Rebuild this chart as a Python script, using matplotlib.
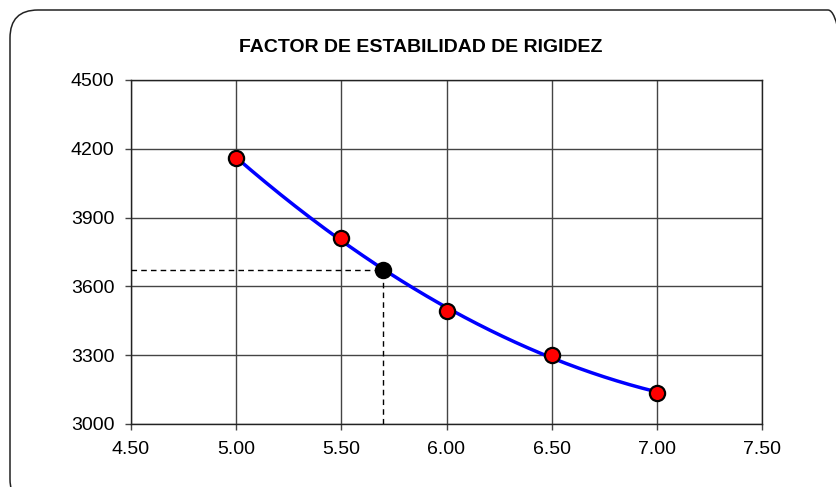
import matplotlib
matplotlib.use("Agg")
import matplotlib.pyplot as plt
import numpy as np
from matplotlib.patches import FancyBboxPatch
from matplotlib.transforms import IdentityTransform
from matplotlib.ticker import FormatStrFormatter

plt.rcParams['font.family'] = ['Liberation Sans', 'DejaVu Sans']

# datos
ancho = [5.0, 5.5, 6.0, 6.5, 7.0]
factor = [4160, 3810, 3492, 3300, 3137]
ancho_sel = 5.7
factor_sel = 3670
titulo = "FACTOR DE ESTABILIDAD DE RIGIDEZ"

fig = plt.figure(figsize=(8.36, 4.87), dpi=100)
ax = fig.add_axes([131 / 836, 1 - 424 / 487, 631 / 836, 344 / 487])

# borde redondeado del area del grafico
borde = FancyBboxPatch((10, -20), 846, 497, boxstyle="round,pad=0,rounding_size=28",
                       facecolor='none', edgecolor='#222222', linewidth=1.1,
                       transform=IdentityTransform())
fig.add_artist(borde)

ax.set_xlim(4.5, 7.5)
ax.set_ylim(3000, 4500)
ax.set_xticks(np.arange(4.5, 7.51, 0.5))
ax.set_yticks(np.arange(3000, 4501, 300))
ax.xaxis.set_major_formatter(FormatStrFormatter('%.2f'))
ax.grid(True, color='#444444', linewidth=1)
ax.set_axisbelow(True)
for s in ax.spines.values():
    s.set_color('#222222')
    s.set_linewidth(1)
ax.tick_params(direction='out', length=4, width=1, color='#444444', labelsize=14)
ax.tick_params(axis='y', pad=8)
ax.tick_params(axis='x', pad=8)

# lineas de lectura
ax.plot([4.5, ancho_sel], [factor_sel, factor_sel], color='black', lw=1,
        ls=(0, (4, 3)), zorder=3)
ax.plot([ancho_sel, ancho_sel], [3000, factor_sel], color='black', lw=1,
        ls=(0, (4, 3)), zorder=3)

# linea de tendencia polinomica (grado 2)
coef = np.polyfit(ancho, factor, 2)
xs = np.linspace(min(ancho), max(ancho), 200)
ax.plot(xs, np.polyval(coef, xs), color='#0000ff', lw=2.5, zorder=4)

ax.scatter(ancho, factor, s=120, color='#ff0000', edgecolor='black',
           linewidth=1.6, zorder=5)
ax.scatter([ancho_sel], [factor_sel], s=120, color='black', edgecolor='black',
           linewidth=1.6, zorder=5)

fig.text(0.503, 1 - 48 / 487, titulo, ha='center', va='center',
         fontsize=14, fontweight='bold')

fig.savefig('out.png', dpi=100)
